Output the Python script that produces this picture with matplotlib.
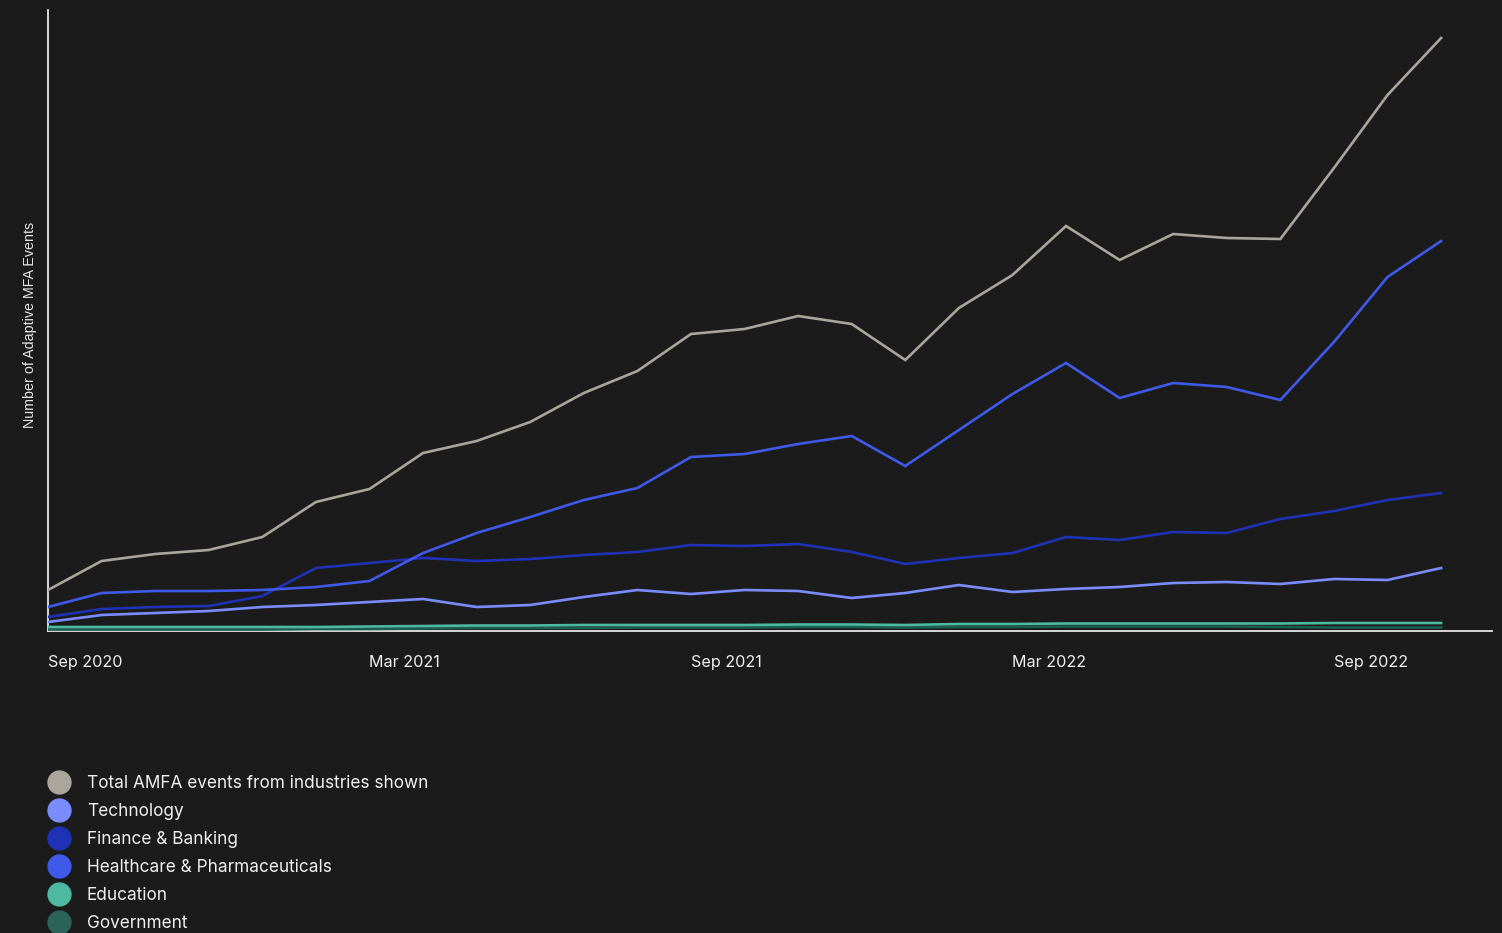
import matplotlib.pyplot as plt
from matplotlib.lines import Line2D

# --- Data (monthly, Sep 2020 .. Nov 2022) ---
months = list(range(27))
tick_pos = [0, 6, 12, 18, 24]
tick_labels = ["Sep 2020", "Mar 2021", "Sep 2021", "Mar 2022", "Sep 2022"]

total = [41, 70, 77, 81, 94, 129, 142, 178, 190, 209, 238, 260, 297, 302, 315,
         307, 271, 323, 356, 405, 371, 397, 393, 392, 463, 536, 593]
technology = [9, 16, 18, 20, 24, 26, 29, 32, 24, 26, 34, 41, 37, 41, 40,
              33, 38, 46, 39, 42, 44, 48, 49, 47, 52, 51, 63]
finance = [14, 22, 24, 25, 35, 63, 68, 73, 70, 72, 76, 79, 86, 85, 87,
           79, 67, 73, 78, 94, 91, 99, 98, 112, 120, 131, 138]
healthcare = [24, 38, 40, 40, 41, 44, 50, 78, 98, 114, 131, 143, 174, 177, 187,
              195, 165, 201, 237, 268, 233, 248, 244, 231, 289, 354, 390]
education = [4, 4, 4, 4, 4, 4, 4.5, 5, 5.5, 5.5, 6, 6, 6, 6, 6.5,
             6.5, 6, 7, 7, 7.5, 7.5, 7.5, 7.5, 7.5, 8, 8, 8]
government = [1.5, 1.5, 1.5, 1.5, 1.5, 2, 2, 2.5, 3, 3, 3, 3.5, 3.5, 3.5, 4,
              4, 3.5, 4, 4, 4.5, 4.5, 4.5, 4.5, 4, 3.5, 3.5, 3.5]

series_names = ["Total AMFA events from industries shown", "Technology",
                "Finance & Banking", "Healthcare & Pharmaceuticals",
                "Education", "Government"]
series_values = [total, technology, finance, healthcare, education, government]
line_colors = ["#aaa69d", "#7b8cff", "#1f32b5", "#3f5ae8", "#4cb9a0", "#1a5e50"]
legend_colors = ["#aaa69d", "#7b8cff", "#1f32b5", "#3f5ae8", "#4cb9a0", "#2b6358"]

BG = "#1b1b1b"
W, H = 1502, 933

fig = plt.figure(figsize=(W / 100, H / 100), dpi=100, facecolor=BG)
ax = fig.add_axes([48 / W, 1 - 631 / H, (1492 - 48) / W, (631 - 10) / H])
ax.set_facecolor(BG)

# draw the small series first so the big ones sit on top
for i in [5, 4, 1, 2, 3, 0]:
    ax.plot(months, series_values[i], color=line_colors[i], lw=1.9,
            solid_joinstyle="miter", zorder=3)

ax.set_xlim(0, 26.95)
ax.set_ylim(0, 621)

for side in ["top", "right"]:
    ax.spines[side].set_visible(False)
for side in ["left", "bottom"]:
    ax.spines[side].set_color("#e6e6e6")
    ax.spines[side].set_linewidth(1.3)

ax.set_yticks([])
ax.set_xticks(tick_pos)
ax.set_xticklabels(tick_labels, ha="left", fontfamily="Inter", fontsize=11.6,
                   color="#f0f0f0")
ax.tick_params(axis="x", length=0, pad=17)
for lbl in ax.get_xticklabels():
    lbl.set_x(lbl.get_position()[0])

fig.text(30 / W, 1 - 325 / H, "Number of Adaptive MFA Events", rotation=90,
         ha="center", va="center", fontsize=10.3, color="#e6e6e6",
         fontfamily="Liberation Sans")

# --- Legend (manual) ---
for i, name in enumerate(series_names):
    y = 1 - (782 + 28 * i) / H
    fig.add_artist(Line2D([59 / W], [y], transform=fig.transFigure, marker="o",
                          markersize=16.5, color=legend_colors[i], ls=""))
    fig.text(87 / W, y - 2 / H, name, ha="left", va="center", fontsize=12.4,
             fontfamily="Inter", color="#f0f0f0")

plt.savefig("out.png", dpi=100, facecolor=BG)
